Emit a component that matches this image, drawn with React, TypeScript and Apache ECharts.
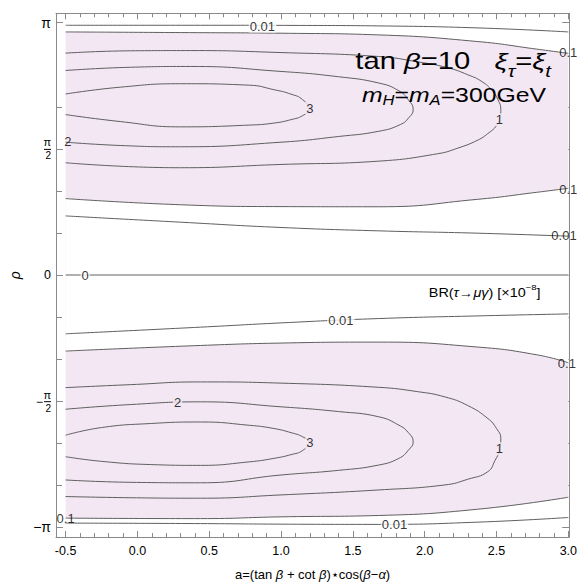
import React, { useEffect, useRef } from "react";
import * as echarts from "echarts";

const PI = Math.PI;
const X_MIN = -0.567;
const X_MAX = 3.006;
const Y_MIN = -3.262;
const Y_MAX = 3.259;

// tick positions
const xMajorTicks = [-0.5, 0, 0.5, 1, 1.5, 2, 2.5, 3];
const xMinorTicks = [-0.4, -0.3, -0.2, -0.1, 0.1, 0.2, 0.3, 0.4, 0.6, 0.7, 0.8, 0.9, 1.1, 1.2, 1.3, 1.4, 1.6, 1.7, 1.8, 1.9, 2.1, 2.2, 2.3, 2.4, 2.6, 2.7, 2.8, 2.9];
const yMajorTicks = [-PI, -PI / 2, 0, PI / 2, PI];
const yMinorTicks = [-5 * PI / 6, -2 * PI / 3, -PI / 3, -PI / 6, PI / 6, PI / 3, 2 * PI / 3];

// contour lines  [a, rho]  (upper half, rho > 0)
const upper001Outer = [[-0.5, 3.11], [0.44, 3.11], [1.13, 3.108], [1.68, 3.102], [2.37, 3.077], [3.0, 3.027]];
const upper01Outer = [[-0.5, 3.027], [0.3, 3.019], [1.0, 3.011], [1.68, 2.99], [2.37, 2.907], [2.78, 2.813], [3.0, 2.76]];
const upper1 = [[-0.5, 2.763], [-0.05, 2.792], [0.37, 2.795], [1.0, 2.77], [1.68, 2.721], [1.95, 2.655], [2.16, 2.581], [2.3, 2.494], [2.4, 2.407], [2.47, 2.295], [2.51, 2.184], [2.53, 2.06], [2.525, 1.973], [2.5, 1.861], [2.44, 1.762], [2.37, 1.68], [2.23, 1.58], [2.09, 1.51], [1.68, 1.418], [1.0, 1.377], [0.3, 1.336], [-0.5, 1.398]];
const upper2 = [[-0.5, 2.547], [-0.05, 2.587], [0.37, 2.597], [1.0, 2.535], [1.4, 2.469], [1.68, 2.391], [1.82, 2.295], [1.885, 2.184], [1.92, 2.06], [1.89, 1.96], [1.83, 1.873], [1.68, 1.79], [1.4, 1.725], [1.0, 1.654], [0.3, 1.597], [-0.12, 1.613], [-0.5, 1.654]];
const upper3 = [[-0.5, 2.254], [-0.12, 2.339], [0.3, 2.382], [0.78, 2.364], [0.95, 2.308], [1.07, 2.252], [1.15, 2.184], [1.195, 2.066], [1.15, 1.985], [1.07, 1.935], [0.95, 1.892], [0.78, 1.867], [0.3, 1.845], [-0.12, 1.911], [-0.5, 1.998]];
const upper01Inner = [[-0.5, 0.952], [0.3, 0.875], [1.0, 0.852], [1.68, 0.85], [2.37, 0.943], [2.78, 1.03], [3.0, 1.08]];
const upper001Inner = [[-0.5, 0.736], [0.3, 0.658], [1.0, 0.592], [1.68, 0.55], [2.37, 0.521], [3.0, 0.484]];

// lower half, rho < 0
const lower001Inner = [[-0.5, -0.732], [0.44, -0.649], [1.0, -0.596], [1.68, -0.542], [2.37, -0.509], [3.0, -0.484]];
const lower01Inner = [[-0.5, -0.947], [0.44, -0.877], [1.0, -0.847], [1.68, -0.835], [2.37, -0.897], [2.78, -0.993], [3.0, -1.092]];
const lower1 = [[-0.5, -1.402], [-0.05, -1.365], [0.44, -1.331], [1.0, -1.346], [1.68, -1.398], [1.95, -1.452], [2.14, -1.517], [2.3, -1.625], [2.44, -1.787], [2.5, -1.911], [2.53, -2.035], [2.52, -2.184], [2.49, -2.308], [2.44, -2.448], [2.3, -2.543], [2.14, -2.614], [1.68, -2.676], [1.0, -2.738], [0.44, -2.779], [-0.05, -2.773], [-0.5, -2.758]];
const lower2 = [[-0.5, -1.671], [-0.05, -1.613], [0.44, -1.579], [1.0, -1.641], [1.4, -1.7], [1.68, -1.765], [1.82, -1.869], [1.885, -1.96], [1.92, -2.076], [1.885, -2.184], [1.82, -2.283], [1.68, -2.366], [1.4, -2.432], [1.0, -2.49], [0.44, -2.587], [-0.05, -2.581], [-0.5, -2.552]];
const lower3 = [[-0.5, -1.994], [-0.25, -1.899], [0.09, -1.849], [0.44, -1.83], [0.78, -1.871], [0.95, -1.911], [1.07, -1.963], [1.15, -2.014], [1.195, -2.084], [1.15, -2.185], [1.07, -2.236], [0.95, -2.283], [0.78, -2.326], [0.44, -2.37], [0.09, -2.36], [-0.25, -2.32], [-0.5, -2.262]];
const lower01Outer = [[-0.5, -3.027], [0.44, -3.033], [1.0, -3.011], [1.68, -2.994], [2.37, -2.916], [3.0, -2.767]];
const lower001Outer = [[-0.5, -3.089], [0.44, -3.095], [1.0, -3.102], [1.68, -3.105], [2.37, -3.077], [3.0, -3.019]];
const zeroLine = [[-0.5, 0], [3.0, 0]];

// contour labels [text, a, rho]
const contourLabels: [string, number, number][] = [
  ["0.01", 0.87, 3.1],
  ["0.1", 3.0, 2.765],
  ["3", 1.2, 2.076],
  ["1", 2.52, 1.935],
  ["2", -0.484, 1.666],
  ["0.1", 3.0, 1.067],
  ["0.01", 2.97, 0.488],
  ["0", -0.364, 0],
  ["0.01", 1.416, -0.562],
  ["0.1", 2.99, -1.104],
  ["2", 0.28, -1.586],
  ["3", 1.2, -2.087],
  ["1", 2.52, -2.163],
  ["0.1", -0.5, -3.031],
  ["0.01", 1.79, -3.104],
];

const FONT = "'Liberation Sans', Arial, sans-serif";
const FRAME = "#8a8a8a";
const LINE = "#5f5f5f";
const PINK = "#f3e7f3";

function near(a: number, b: number) {
  return Math.abs(a - b) < 1e-6;
}

function yLabel(v: number) {
  if (near(v, 0)) return "{r|0}";
  if (near(v, PI)) return "{p|π}";
  if (near(v, -PI)) return "{p|−π}";
  if (near(v, PI / 2)) return "{n|π}\n{bar| }\n{d|2}";
  if (near(v, -PI / 2)) return "{n|π}\n{m|−}{bar| }\n{d|2}";
  return "";
}

function mkX(pos: string, ticks: number[], len: number, line: boolean, labels: boolean) {
  return {
    type: "value",
    position: pos,
    min: X_MIN,
    max: X_MAX,
    axisLine: { show: line, onZero: false, lineStyle: { color: FRAME, width: 1 } },
    axisTick: { show: true, inside: true, length: len, customValues: ticks, lineStyle: { color: FRAME, width: 1 } },
    axisLabel: labels
      ? { show: true, customValues: ticks, formatter: (v: number) => v.toFixed(1), color: "#000", fontSize: 12.5, fontFamily: FONT, margin: 7 }
      : { show: false },
    splitLine: { show: false },
  };
}

function mkY(pos: string, ticks: number[], len: number, line: boolean, labels: boolean) {
  return {
    type: "value",
    position: pos,
    min: Y_MIN,
    max: Y_MAX,
    axisLine: { show: line, onZero: false, lineStyle: { color: FRAME, width: 1 } },
    axisTick: { show: true, inside: true, length: len, customValues: ticks, lineStyle: { color: FRAME, width: 1 } },
    axisLabel: labels
      ? {
          show: true,
          customValues: ticks,
          formatter: yLabel,
          color: "#000",
          fontFamily: FONT,
          margin: 5,
          rich: {
            r: { fontSize: 12.5, fontFamily: FONT, color: "#000" },
            p: { fontSize: 14, fontFamily: FONT, color: "#000" },
            n: { fontSize: 11, fontFamily: FONT, color: "#000", align: "right", lineHeight: 11 },
            d: { fontSize: 10, fontFamily: FONT, color: "#000", align: "right", lineHeight: 10 },
            m: { fontSize: 12, fontFamily: FONT, color: "#000", align: "right", lineHeight: 1, padding: [0, 1, 0, 0] },
            bar: { width: 7, height: 1, lineHeight: 3, fontSize: 1, backgroundColor: "#000", align: "right" },
          },
        }
      : { show: false },
    splitLine: { show: false },
  };
}

function contour(data: number[][], z = 3) {
  return {
    type: "line",
    data,
    smooth: 0.5,
    showSymbol: false,
    silent: true,
    z,
    lineStyle: { color: LINE, width: 1 },
  };
}

function shade(data: number[][], color: string, z: number) {
  return {
    type: "line",
    data,
    smooth: 0.5,
    showSymbol: false,
    silent: true,
    z,
    lineStyle: { color: LINE, width: 1 },
    areaStyle: { color, opacity: 1, origin: 0 },
  };
}

export default function App() {
  const ref = useRef<HTMLDivElement>(null);
  useEffect(() => {
    const chart = echarts.init(ref.current!, null, { renderer: "svg" });
    const inShade = (a: number, r: number) => a < 2.9 && Math.abs(r) > 1.0 && Math.abs(r) < 2.95;
    const labelData = contourLabels.map(([t, a, r]) => ({
      value: [a, r],
      name: t,
      label: {
        backgroundColor: a >= 2.9 || a <= -0.45 ? "transparent" : inShade(a, r) ? PINK : "#fff",
      },
    }));
    const option: any = {
      animation: false,
      grid: { left: 54.5, right: 7.5, top: 13.3, bottom: 47, containLabel: false },
      xAxis: [
        {
          ...mkX("bottom", xMajorTicks, 6, true, true),
          name: "a=(tan {i|β} + cot {i|β})⋆cos({i|β}−{i|α})",
          nameLocation: "middle",
          nameGap: 31,
          nameTextStyle: {
            fontSize: 13,
            fontFamily: FONT,
            color: "#000",
            rich: { i: { fontStyle: "italic", fontSize: 13, fontFamily: FONT, color: "#000" } },
          },
        },
        mkX("bottom", xMinorTicks, 4, false, false),
        mkX("top", xMajorTicks, 6, true, false),
        mkX("top", xMinorTicks, 4, false, false),
      ],
      yAxis: [
        {
          ...mkY("left", yMajorTicks, 7, true, true),
          name: "ρ",
          nameLocation: "middle",
          nameGap: 34,
          nameTextStyle: { fontSize: 14, fontStyle: "italic", fontFamily: FONT, color: "#000" },
        },
        mkY("left", yMinorTicks, 6, false, false),
        mkY("right", yMajorTicks, 7, true, false),
        mkY("right", yMinorTicks, 6, false, false),
      ],
      series: [
        shade(upper01Outer, PINK, 1),
        shade(upper01Inner, "#ffffff", 2),
        shade(lower01Outer, PINK, 1),
        shade(lower01Inner, "#ffffff", 2),
        contour(upper001Outer),
        contour(upper1),
        contour(upper2),
        contour(upper3),
        contour(upper001Inner),
        contour(lower001Inner),
        contour(lower1),
        contour(lower2),
        contour(lower3),
        contour(lower001Outer),
        {
          type: "line",
          data: zeroLine,
          showSymbol: false,
          silent: true,
          z: 3,
          lineStyle: { color: "#b0b0b0", width: 2 },
        },
        {
          type: "scatter",
          data: labelData,
          symbolSize: 0,
          silent: true,
          z: 5,
          label: {
            show: true,
            position: "inside",
            formatter: "{b}",
            color: "#000",
            fontSize: 13,
            fontFamily: FONT,
            padding: [0, 1],
          },
        },
      ],
      graphic: [
        {
          type: "text",
          x: 551,
          y: 61.5,
          scaleX: 1.27,
          z: 10,
          style: {
            text: "tan {bi|β}=10   {bi|ξ}{sub|τ}={bi|ξ}{sub|t}",
            align: "right",
            verticalAlign: "middle",
            fontSize: 23,
            lineHeight: 36,
            fontFamily: FONT,
            fill: "#000",
            rich: {
              bi: { fontStyle: "italic", fontSize: 23, fontFamily: FONT, fill: "#000" },
              sub: { fontStyle: "italic", fontSize: 16, lineHeight: 16, verticalAlign: "bottom", fontFamily: FONT, fill: "#000" },
            },
          },
        },
        {
          type: "text",
          x: 546,
          y: 94.5,
          scaleX: 1.18,
          z: 10,
          style: {
            text: "{mi|m}{sub|H}={mi|m}{sub|A}=300GeV",
            align: "right",
            verticalAlign: "middle",
            fontSize: 21,
            lineHeight: 25,
            fontFamily: FONT,
            fill: "#000",
            rich: {
              mi: { fontStyle: "italic", fontSize: 21, fontFamily: FONT, fill: "#000" },
              sub: { fontStyle: "italic", fontSize: 14, lineHeight: 14, verticalAlign: "bottom", fontFamily: FONT, fill: "#000" },
            },
          },
        },
        {
          type: "text",
          x: 484.7,
          y: 293.3,
          scaleX: 1.2,
          z: 10,
          style: {
            text: "BR({i|τ}→{i|μγ}) [×10{sup|−8}]",
            align: "center",
            verticalAlign: "middle",
            fontSize: 12,
            lineHeight: 20,
            fontFamily: FONT,
            fill: "#000",
            rich: {
              i: { fontStyle: "italic", fontSize: 12, fontFamily: FONT, fill: "#000" },
              sup: { fontSize: 8, lineHeight: 8, verticalAlign: "top", fontFamily: FONT, fill: "#000" },
            },
          },
        },
      ],
    };
    chart.setOption(option);
    return () => chart.dispose();
  }, []);
  return (
    <div
      ref={ref}
      style={{ position: "absolute", left: 0, top: 0, width: 580, height: 586, background: "#fff" }}
    />
  );
}
